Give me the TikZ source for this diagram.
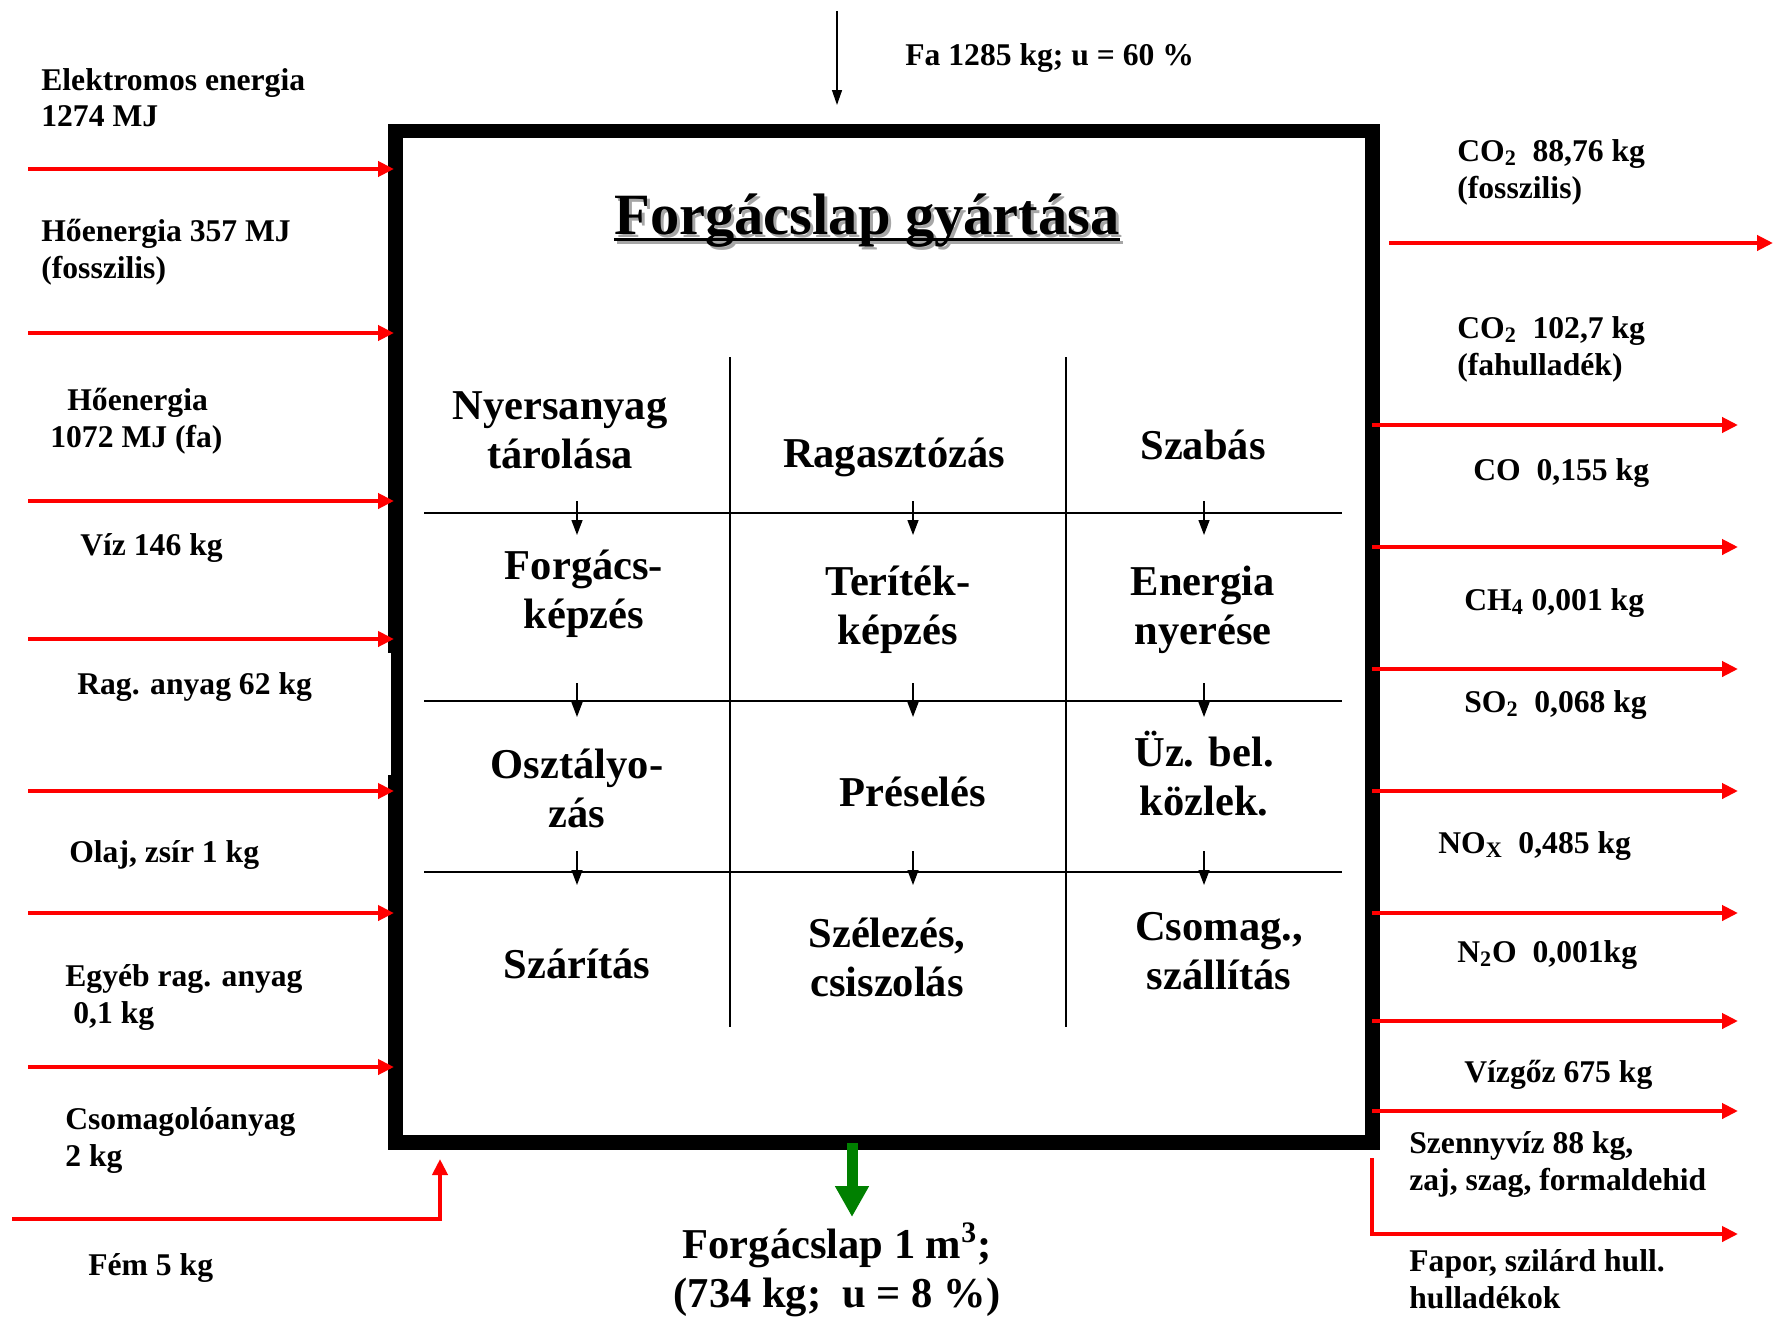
\documentclass[tikz,border=0pt]{standalone}
\usepackage{fontspec}
\setmainfont{Liberation Serif}
\usepackage{tikz}
\usetikzlibrary{arrows.meta}
\definecolor{prodgreen}{RGB}{0,128,0}
\tikzset{
	lbl/.style={anchor=base west, align=left, inner sep=0pt, font=\fontsize{18}{21}\selectfont\bfseries},
	cell/.style={anchor=base, align=center, inner sep=0pt, font=\fontsize{24.2}{27.6}\selectfont\bfseries},
	titletext/.style={anchor=base, inner sep=0pt, font=\fontsize{33.3}{40}\selectfont\bfseries},
	redarr/.style={red, line width=0.08cm, -{Triangle[length=0.32cm,width=0.3cm]}},
	gridline/.style={line width=0.8pt},
	steparr/.style={line width=0.8pt, -{Triangle[length=0.3cm,width=0.22cm]}},
	prodarr/.style={prodgreen, line width=0.22cm, -{Triangle[length=0.62cm,width=0.64cm]}},
}

\begin{document}
\begin{tikzpicture}[x=0.02cm, y=-0.02cm]
		\useasboundingbox (0,0) rectangle (1774,1318);

		\draw[line width=0.3cm] (395,131) rectangle (1372,1142);
		\fill[white] (386,653) rectangle (391,775);

		\node[titletext, gray!70] (titleshadow) at (870,237) {Forgácslap gyártása};
		\draw[gray!70, line width=0.06cm] ([yshift=-0.1cm]titleshadow.base west) -- ([yshift=-0.1cm]titleshadow.base east);
		\node[titletext] (title) at (867,234) {Forgácslap gyártása};
		\draw[line width=0.06cm] ([yshift=-0.1cm]title.base west) -- ([yshift=-0.1cm]title.base east);

		\draw[gridline] (730,357) -- (730,1027);
		\draw[gridline] (1066,357) -- (1066,1027);
		\foreach \y in {513,701,872}
			\draw[gridline] (424,\y) -- (1342,\y);

		% base anchor = baseline of the last line
		\node[cell] (nyers) at (560,468) {Nyersanyag\\tárolása};
		\node[cell] (ragaszt) at (894,467) {Ragasztózás};
		\node[cell] (szabas) at (1203,459) {Szabás};
		\node[cell] (forgkep) at (584,628) {Forgács-\\képzés};
		\node[cell] (teritek) at (898,644) {Teríték-\\képzés};
		\node[cell] (energia) at (1203,644) {Energia\\nyerése};
		\node[cell] (osztaly) at (577,827) {Osztályo-\\zás};
		\node[cell] (preseles) at (913,806) {Préselés};
		\node[cell] (uzbel) at (1204,815) {Üz. bel.\\közlek.};
		\node[cell] (szaritas) at (577,978) {Szárítás};
		\node[cell] (szelezes) at (887,996) {Szélezés,\\csiszolás};
		\node[cell] (csomag) at (1219,989) {Csomag.,\\szállítás};

		\foreach \x in {577,913,1204}
			\foreach \y in {501,683,851} {
				\coordinate (sa) at (\x,\y);
				\coordinate (sb) at (\x,\y+34);
				\draw[steparr] (sa) -- (sb);
			}

		\coordinate (fastart) at (837,11);
		\coordinate (faend) at (837,105);
		\draw[line width=0.8pt, -{Triangle[length=0.3cm,width=0.2cm]}] (fastart) -- (faend);
		\node[lbl] (fa) at (905,66) {Fa 1285 kg; u = 60 \%};

		\coordinate (gtop) at (852,1143);
		\coordinate (gtip) at (852,1217);
		\draw[prodarr] (gtop) -- (gtip);
		\node[cell] (product) at (837,1307) {Forgácslap 1 m\textsuperscript{3};\\(734 kg;\ \ u = 8 \%)};

		\foreach \y in {169,333,501,639,791,913,1067} {
			\coordinate (ina) at (28,\y);
			\coordinate (inb) at (394,\y);
			\draw[redarr] (ina) -- (inb);
		}
		\coordinate (femstart) at (12,1219);
		\coordinate (femend) at (440,1159);
		\draw[redarr] (femstart) -| (femend);

		\coordinate (outa) at (1389,243);
		\coordinate (outb) at (1773,243);
		\draw[redarr] (outa) -- (outb);
		\foreach \y in {425,547,669,791,913,1021,1111} {
			\coordinate (outa) at (1372,\y);
			\coordinate (outb) at (1738,\y);
			\draw[redarr] (outa) -- (outb);
		}
		\coordinate (faporstart) at (1372,1158);
		\coordinate (faporend) at (1738,1234);
		\draw[redarr] (faporstart) |- (faporend);

		\node[lbl] (elektr) at (41,127) {Elektromos energia\\1274 MJ};
		\node[lbl] (hofossz) at (41,278) {Hőenergia 357 MJ\\(fosszilis)};
		\node[lbl] (hofa) at (50,447) {\hspace*{0.34cm}Hőenergia\\1072 MJ (fa)};
		\node[lbl] (viz) at (80,555) {Víz 146 kg};
		\node[lbl] (rag) at (77,694) {Rag. anyag 62 kg};
		\node[lbl] (olaj) at (69,862) {Olaj, zsír 1 kg};
		\node[lbl] (egyeb) at (65,1023) {Egyéb rag. anyag\\\hspace*{0.16cm}0,1 kg};
		\node[lbl] (csomanyag) at (65,1166) {Csomagolóanyag\\2 kg};
		\node[lbl] (fem) at (88,1275) {Fém 5 kg};

		\node[lbl] (cofossz) at (1457,198) {CO\textsubscript{2}\ \ 88,76 kg\\(fosszilis)};
		\node[lbl] (cofa) at (1457,375) {CO\textsubscript{2}\ \ 102,7 kg\\(fahulladék)};
		\node[lbl] (co) at (1473,480) {CO\ \ 0,155 kg};
		\node[lbl] (chnegy) at (1464,610) {CH\textsubscript{4} 0,001 kg};
		\node[lbl] (sokett) at (1464,712) {SO\textsubscript{2}\ \ 0,068 kg};
		\node[lbl] (nox) at (1438,853) {NO\textsubscript{X}\ \ 0,485 kg};
		\node[lbl] (noketto) at (1457,962) {N\textsubscript{2}O\ \ 0,001kg};
		\node[lbl] (vizgoz) at (1464,1082) {Vízgőz 675 kg};
		\node[lbl] (szenny) at (1409,1190) {Szennyvíz 88 kg,\\zaj, szag, formaldehid};
		\node[lbl] (fapor) at (1409,1308) {Fapor, szilárd hull.\\hulladékok};

	\end{tikzpicture}
\end{document}
